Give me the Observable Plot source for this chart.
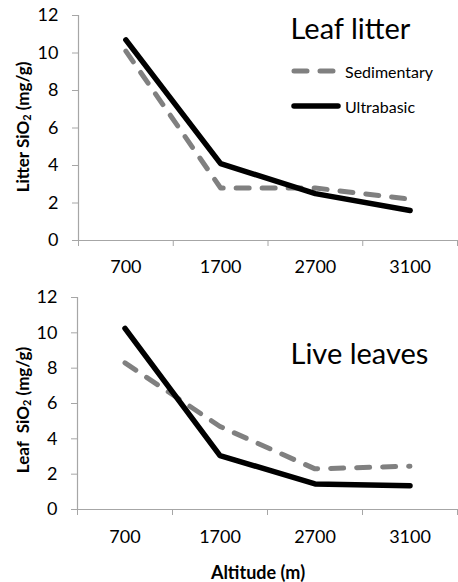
<!DOCTYPE html>
<html><head><meta charset="utf-8">
<script src="https://cdn.jsdelivr.net/npm/d3@7"></script>
<script src="https://cdn.jsdelivr.net/npm/@observablehq/plot@0.6"></script>
<style>
body{margin:0;background:#fff}
#c{position:relative;width:458px;height:582px;font-family:Lato,sans-serif;color:#000}
#c svg{display:block}
.ylab{position:absolute;transform:translate(-50%,-50%) rotate(-90deg);white-space:pre;font-weight:bold;font-size:17px}
.ylab sub{font-size:11px;vertical-align:-2px}
.xlab{position:absolute;transform:translate(-50%,-50%);white-space:pre;font-weight:bold;font-size:18px}
.leg{position:absolute;display:flex;align-items:center;font-size:16px}
.leg svg{margin-right:3px}
</style>
</head><body><div id="c"></div>
<script>
const altitudes = ["700", "1700", "2700", "3100"];
const litterSedimentary = [10.1, 2.8, 2.8, 2.2];
const litterUltrabasic = [10.7, 4.1, 2.5, 1.6];
const leafSedimentary = [8.3, 4.7, 2.3, 2.45];
const leafUltrabasic = [10.25, 3.05, 1.45, 1.35];
const yTicks = [0, 2, 4, 6, 8, 10, 12];
const seriesNames = ["Sedimentary", "Ultrabasic"];
const seriesStyle = {
  Sedimentary: {stroke: "#808080", strokeWidth: 5, dash: "13,13"},
  Ultrabasic: {stroke: "#000000", strokeWidth: 5.5, dash: null}
};

function panel({sed, ult, height, marginLeft, marginBottom, title, titleDx, titleDy, xPad}) {
  const rows = [];
  altitudes.forEach((a, i) => {
    rows.push({i, v: sed[i], s: seriesNames[0]});
    rows.push({i, v: ult[i], s: seriesNames[1]});
  });
  const bounds = d3.range(altitudes.length + 1).map(k => k - 0.5);
  const centers = d3.range(altitudes.length);
  const lineMarks = seriesNames.map(name => Plot.line(rows.filter(d => d.s === name), {
    x: "i", y: "v",
    stroke: seriesStyle[name].stroke,
    strokeWidth: seriesStyle[name].strokeWidth,
    strokeDasharray: seriesStyle[name].dash,
    strokeLinecap: "round",
    strokeLinejoin: "round"
  }));
  return Plot.plot({
    width: 458, height, marginLeft, marginRight: 1, marginTop: 15, marginBottom,
    style: {fontFamily: "Lato, sans-serif", fontSize: "18px", color: "#000", background: "#fff", overflow: "visible"},
    x: {type: "linear", domain: [-0.5, altitudes.length - 0.5]},
    y: {domain: [0, 12]},
    marks: [
      Plot.ruleX([-0.5], {y1: 0, y2: 12, stroke: "#a6a6a6", strokeWidth: 1.2}),
      Plot.ruleY([0], {stroke: "#a6a6a6", strokeWidth: 1.2}),
      Plot.axisX({ticks: bounds, tickSize: 6, tickFormat: () => "", stroke: "#a6a6a6", strokeOpacity: 1, label: null}),
      Plot.axisX({ticks: centers, tickSize: 0, tickPadding: xPad, tickFormat: i => altitudes[i], fill: "#000", fontSize: 18, label: null}),
      Plot.axisY({ticks: yTicks, tickSize: 6, tickPadding: 14, stroke: "#a6a6a6", strokeOpacity: 1, fill: "#000", fontSize: 18, label: null}),
      ...lineMarks,
      Plot.text([title], {frameAnchor: "top-left", dx: titleDx, dy: titleDy, textAnchor: "start", lineAnchor: "bottom", fontSize: 29, fill: "#000"})
    ]
  });
}

const c = document.getElementById("c");
const topPanel = panel({sed: litterSedimentary, ult: litterUltrabasic, height: 282, marginLeft: 78, marginBottom: 42, title: "Leaf litter", titleDx: 212, titleDy: 23, xPad: 20});
const botPanel = panel({sed: leafSedimentary, ult: leafUltrabasic, height: 300, marginLeft: 77, marginBottom: 73, title: "Live leaves", titleDx: 213, titleDy: 66, xPad: 21});
c.appendChild(topPanel);
c.appendChild(botPanel);

function addHTML(html) { const d = document.createElement("div"); d.innerHTML = html; c.appendChild(d.firstElementChild); }
addHTML('<div class="ylab" style="left:22px;top:127px">Litter SiO<sub>2</sub> (mg/g)</div>');
addHTML('<div class="ylab" style="left:22px;top:410px">Leaf  SiO<sub>2</sub> (mg/g)</div>');
addHTML('<div class="xlab" style="left:258px;top:572px">Altitude (m)</div>');
const legTops = {Sedimentary: 61, Ultrabasic: 96};
seriesNames.forEach(name => {
  const st = seriesStyle[name];
  addHTML(`<div class="leg" style="left:290px;top:${legTops[name]}px"><svg width="52" height="20"><line x1="4" x2="48" y1="10" y2="10" stroke="${st.stroke}" stroke-width="${st.strokeWidth}" stroke-linecap="round" ${st.dash ? `stroke-dasharray="${st.dash}"` : ""}/></svg><span>${name}</span></div>`);
});
</script>
</body></html>
